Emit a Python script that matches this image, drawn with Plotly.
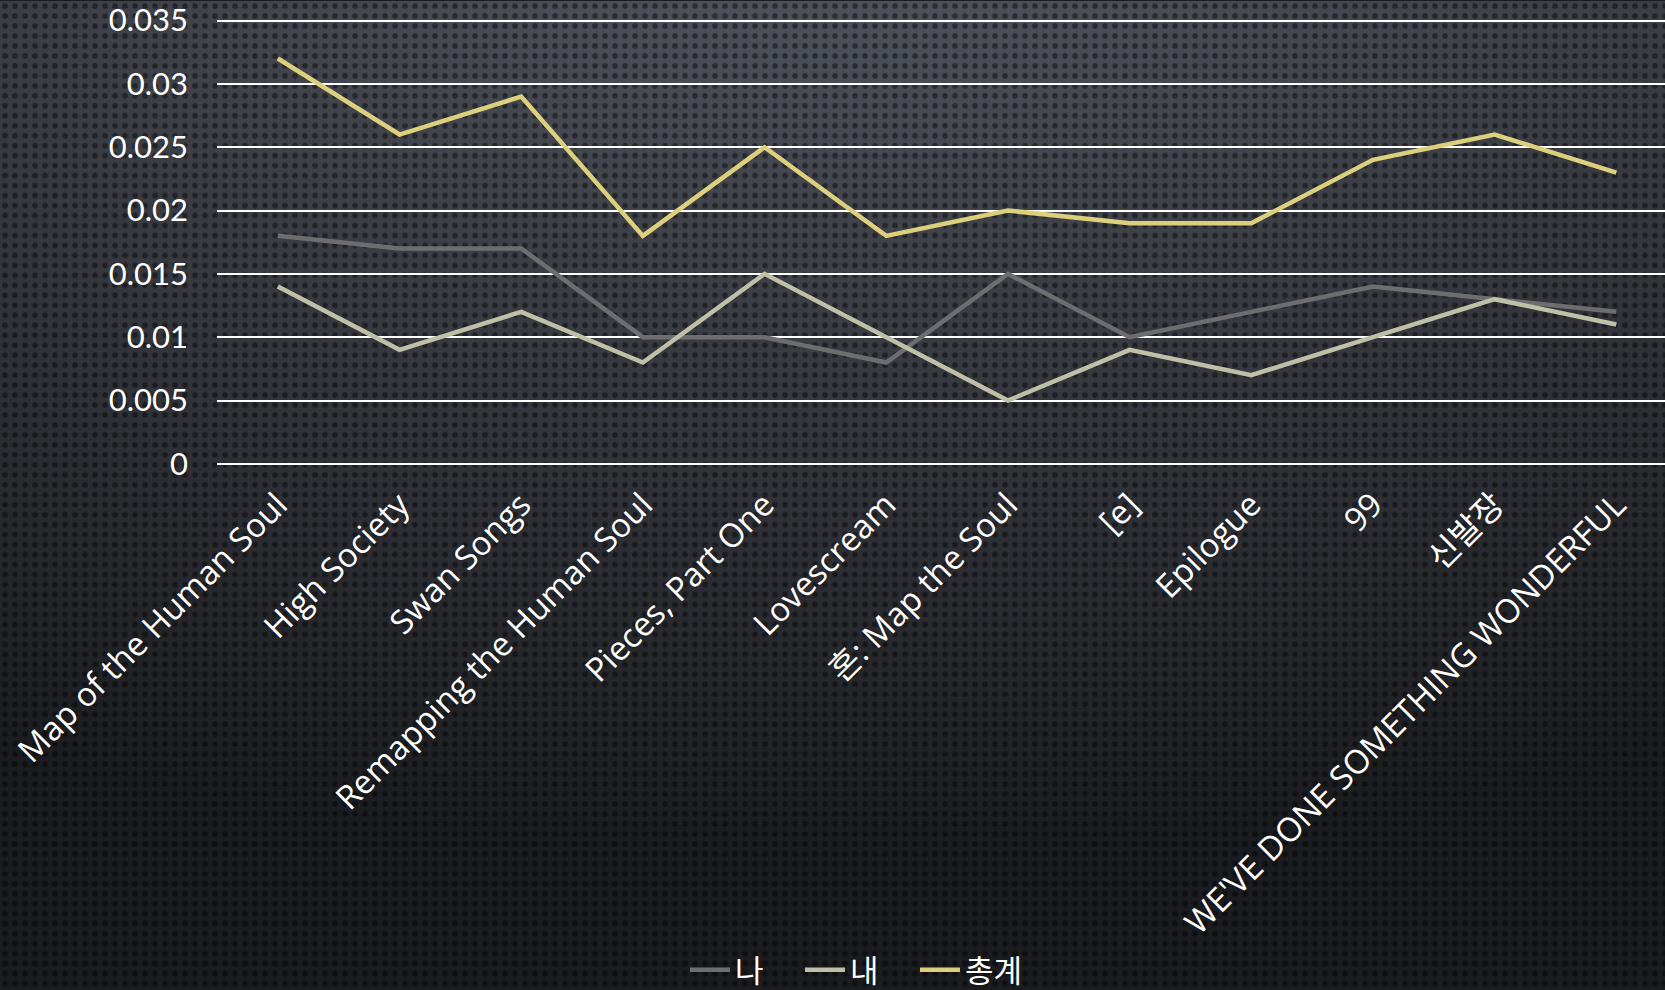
import base64, struct, zlib
import numpy as np
import plotly.graph_objects as go

# ---------------- data ----------------
categories = [
    "Map of the Human Soul", "High Society", "Swan Songs",
    "Remapping the Human Soul", "Pieces, Part One", "Lovescream",
    "혼: Map the Soul", "[e]", "Epilogue", "99", "신발장",
    "WE'VE DONE SOMETHING WONDERFUL",
]
series_na = [0.018, 0.017, 0.017, 0.010, 0.010, 0.008, 0.015, 0.010, 0.012, 0.014, 0.013, 0.012]
series_nae = [0.014, 0.009, 0.012, 0.008, 0.015, 0.010, 0.005, 0.009, 0.007, 0.010, 0.013, 0.011]
series_total = [0.032, 0.026, 0.029, 0.018, 0.025, 0.018, 0.020, 0.019, 0.019, 0.024, 0.026, 0.023]
series_names = ["나", "내", "총계"]
y_ticks = [0, 0.005, 0.01, 0.015, 0.02, 0.025, 0.03, 0.035]
y_tick_text = ["0", "0.005", "0.01", "0.015", "0.02", "0.025", "0.03", "0.035"]

# ---------------- background texture (gradient + dots) ----------------
W, H = 1665, 990
yy, xx = np.mgrid[0:H, 0:W].astype(np.float64)
d = np.sqrt(((xx - 0.5 * W) / (1.2 * W)) ** 2 + ((yy + 0.15 * H) / (1.05 * H)) ** 2)
t = np.clip((d - 0.12) / 0.85, 0, 1)[..., None]
c0 = np.array([80, 84, 93], dtype=float)
c1 = np.array([27, 28, 31], dtype=float)
img = c0 * (1 - t) + c1 * t
fx = (xx % 10) - 4.5
fy = (yy % 10) - 4.5
r = np.sqrt(fx ** 2 + fy ** 2)
dot = np.clip((3.6 - r) / 1.6, 0, 1)[..., None]
img = img * (1 - 0.45 * dot)
img = np.clip(img, 0, 255).astype(np.uint8)
raw = np.concatenate([np.zeros((H, 1), np.uint8), img.reshape(H, W * 3)], axis=1).tobytes()


def chunk(tag, data):
    c = struct.pack(">I", len(data)) + tag + data
    return c + struct.pack(">I", zlib.crc32(tag + data) & 0xFFFFFFFF)


png = b"\x89PNG\r\n\x1a\n" + chunk(b"IHDR", struct.pack(">IIBBBBB", W, H, 8, 2, 0, 0, 0)) \
    + chunk(b"IDAT", zlib.compress(raw, 9)) + chunk(b"IEND", b"")
bg_uri = "data:image/png;base64," + base64.b64encode(png).decode()

# ---------------- figure ----------------
FONT_Y = "Lato, 'Noto Sans CJK KR', sans-serif"
FONT_X = "'Open Sans', 'Noto Sans CJK KR', sans-serif"
colors = ["#6e6e70", "#c0c0a8", "#ddd07c"]

fig = go.Figure()
for name, vals, col in zip(series_names, [series_na, series_nae, series_total], colors):
    fig.add_trace(go.Scatter(x=categories, y=vals, name=name, mode="lines",
                             line=dict(color=col, width=4.5)))

ml, mr, mt, mb = 217, 0, 17, 526
pw, ph = W - ml - mr, H - mt - mb

fig.update_layout(
    width=W, height=H,
    margin=dict(l=ml, r=mr, t=mt, b=mb, pad=0),
    paper_bgcolor="#1c1d20",
    plot_bgcolor="rgba(0,0,0,0)",
    font=dict(family=FONT_Y, color="white", size=32),
    showlegend=True,
    legend=dict(orientation="h", xref="container", yref="container",
                x=0.515, y=0.02, xanchor="center", yanchor="middle",
                font=dict(family=FONT_X, size=31, color="white"), bgcolor="rgba(0,0,0,0)",
                entrywidth=60, entrywidthmode="pixels",
                itemwidth=40, tracegroupgap=0),
    images=[dict(source=bg_uri, xref="paper", yref="paper",
                 x=-ml / pw, y=1 + mt / ph, sizex=W / pw, sizey=H / ph,
                 sizing="stretch", xanchor="left", yanchor="top", layer="below")],
)
fig.update_xaxes(type="category", range=[-0.5, 11.4], showgrid=False, zeroline=False,
                 showline=False, tickangle=-45, ticks="", ticklabelstandoff=14,
                 tickfont=dict(family=FONT_X, size=33, color="white"))
fig.update_yaxes(range=[0, 0.0352], tickvals=y_ticks, ticktext=y_tick_text,
                 showgrid=True, gridcolor="white", gridwidth=2,
                 zeroline=True, zerolinecolor="white", zerolinewidth=2,
                 showline=False, ticks="", ticklabelstandoff=28, ticklabeloverflow="allow",
                 tickfont=dict(size=31, color="white"))

fig.write_html("out.html", config={"displayModeBar": False},
               post_script="document.body.style.margin='0';document.body.style.overflow='hidden';")
